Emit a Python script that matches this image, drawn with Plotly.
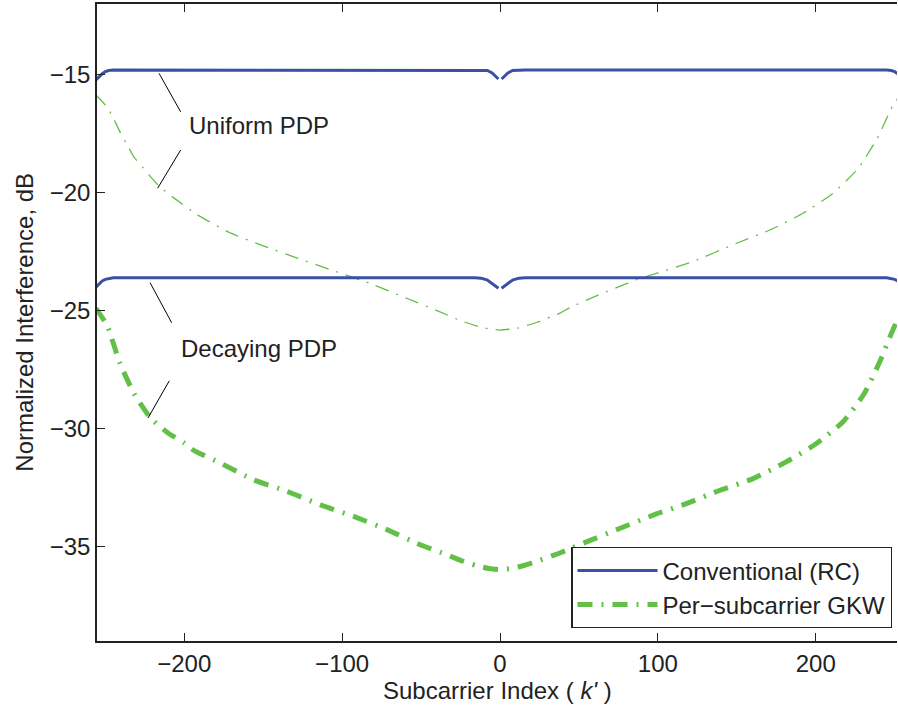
import plotly.graph_objects as go

# ---- data ----
k_rc = [-256, -254, -252, -250, -248, -245, -16, -12, -8, -5, -3, -1, 0,
        1, 3, 5, 8, 12, 16, 245, 248, 250, 252, 254, 256]
rc_uniform = [-15.22, -15.08, -14.95, -14.87, -14.82, -14.80, -14.80, -14.80, -14.82, -14.92, -15.03, -15.18, None,
              -15.18, -15.03, -14.92, -14.82, -14.80, -14.80, -14.80, -14.82, -14.87, -14.95, -15.08, -15.22]
rc_decaying = [-24.00, -23.85, -23.74, -23.67, -23.63, -23.60, -23.60, -23.62, -23.70, -23.85, -23.95, -24.05, None,
               -24.05, -23.95, -23.85, -23.70, -23.62, -23.60, -23.60, -23.63, -23.67, -23.74, -23.85, -24.00]

k_gkw_u = [-256, -252.5, -248.5, -244.5, -240.5, -236, -231.7, -226, -221, -216, -206, -192, -171, -150,
           -128, -107, -82, -60, -38, -25, -11, 0, 11, 23, 38, 44, 60, 86, 100, 122, 150, 171, 192,
           211, 227, 239, 248.5, 252, 256]
gkw_uniform = [-15.85, -16.1, -16.4, -16.9, -17.45, -18.0, -18.5, -18.95, -19.35, -19.72, -20.25, -20.92,
               -21.7, -22.25, -22.78, -23.27, -23.85, -24.45, -25.05, -25.42, -25.72, -25.82, -25.74,
               -25.5, -25.1, -24.88, -24.4, -23.7, -23.4, -22.92, -22.14, -21.58, -20.87, -20.02,
               -18.96, -17.69, -16.35, -16.0, -15.75]

k_gkw_d = [-256, -248.7, -241, -231.7, -221, -210.5, -200, -193.7, -177, -156, -134.8, -113.7, -92.7,
           -71.6, -50.6, -33.7, -25, -15, -7, 0, 7, 15, 25, 37.9, 54.8, 75.8, 96.9, 118, 139, 160,
           181, 200, 217, 230.6, 241, 248, 252, 256]
gkw_decaying = [-24.9, -25.65, -27.19, -28.53, -29.58, -30.17, -30.61, -30.93, -31.46, -32.17, -32.66,
                -33.23, -33.72, -34.28, -34.92, -35.34, -35.58, -35.8, -35.93, -35.97, -35.93, -35.8,
                -35.58, -35.27, -34.8, -34.23, -33.67, -33.18, -32.62, -32.13, -31.42, -30.65, -29.73,
                -28.53, -27.1, -25.95, -25.35, -24.9]

x_ticks = [-200, -100, 0, 100, 200]
y_ticks = [-35, -30, -25, -20, -15]

labels = ["Uniform PDP", "Decaying PDP"]
label_pos = [(-198.5, -17.13), (-203.2, -26.62)]
pointer_lines = [(-216.0, -14.94, -202.3, -16.57), (-202.3, -18.19, -216.9, -19.81),
                 (-221.7, -23.81, -208.0, -25.51), (-209.5, -27.97, -223.0, -29.55)]

BLUE = "#3a50a6"
GREEN = "#62bf48"
TXT = "#222222"
FONT = "Liberation Sans, Arial, sans-serif"

fig = go.Figure()
fig.add_trace(go.Scatter(x=k_rc, y=rc_uniform, mode="lines", name="Conventional (RC)",
                         line=dict(color=BLUE, width=3), legendgroup="rc", connectgaps=False))
fig.add_trace(go.Scatter(x=k_gkw_u, y=gkw_uniform, mode="lines", name="Per\u2212subcarrier GKW",
                         line=dict(color=GREEN, width=1.3, dash="14px,8px,2px,8px", shape="spline", smoothing=0.5),
                         legendgroup="gkw", showlegend=False))
fig.add_trace(go.Scatter(x=k_rc, y=rc_decaying, mode="lines", name="Conventional (RC)",
                         line=dict(color=BLUE, width=3), legendgroup="rc", showlegend=False, connectgaps=False))
fig.add_trace(go.Scatter(x=k_gkw_d, y=gkw_decaying, mode="lines", name="Per\u2212subcarrier GKW",
                         line=dict(color=GREEN, width=5, dash="15px,9px,2px,9px", shape="spline", smoothing=0.5),
                         legendgroup="gkw", showlegend=True))

for (x0, y0, x1, y1) in pointer_lines:
    fig.add_shape(type="line", x0=x0, y0=y0, x1=x1, y1=y1, xref="x", yref="y",
                  line=dict(color="black", width=1))
for txt, (lx, ly) in zip(labels, label_pos):
    fig.add_annotation(x=lx, y=ly, text=txt, showarrow=False, xanchor="left", yanchor="middle",
                       font=dict(size=24, color=TXT, family=FONT))

# axis titles
fig.add_annotation(x=0.5, y=-0.077, xref="paper", yref="paper", text="Subcarrier Index ( <i>k'</i> )",
                   showarrow=False, xanchor="center", yanchor="middle",
                   font=dict(size=24, color=TXT, family=FONT))
fig.add_annotation(x=-0.091, y=0.5, xref="paper", yref="paper", text="Normalized Interference, dB",
                   showarrow=False, xanchor="center", yanchor="middle", textangle=-90,
                   font=dict(size=24, color=TXT, family=FONT))

fig.update_layout(
    width=898, height=709,
    margin=dict(l=97, r=1, t=4, b=68, autoexpand=False),
    plot_bgcolor="white", paper_bgcolor="white",
    font=dict(family=FONT, size=24, color=TXT),
    showlegend=True,
    legend=dict(x=0.994, y=0.0204, xanchor="right", yanchor="bottom",
                bordercolor="#222222", borderwidth=1.3, bgcolor="white",
                font=dict(size=24, color=TXT, family=FONT), traceorder="normal",
                tracegroupgap=0, itemwidth=80),
)
fig.update_xaxes(range=[-255.3, 251.5], tickvals=x_ticks, ticks="inside", ticklen=8,
                 tickcolor="#222222", showline=True, linecolor="#222222", linewidth=1.5,
                 mirror="ticks", showgrid=False, zeroline=False, automargin=False)
fig.update_yaxes(range=[-39, -12], tickvals=y_ticks, ticks="inside", ticklen=8,
                 tickcolor="#222222", showline=True, linecolor="#222222", linewidth=1.5,
                 showgrid=False, zeroline=False, automargin=False)

fig.write_html("out.html", config={"displayModeBar": False},
               post_script="document.body.style.margin='0';document.body.style.overflow='hidden';")
